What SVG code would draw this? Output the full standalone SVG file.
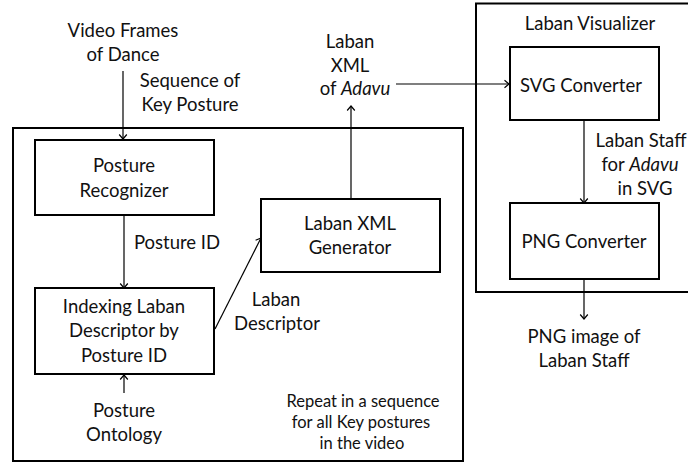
<svg xmlns="http://www.w3.org/2000/svg" width="688" height="464" viewBox="0 0 688 464">
<defs>
<marker id="arr" markerUnits="userSpaceOnUse" markerWidth="10" markerHeight="10" viewBox="0 0 10 10" refX="9" refY="5" orient="auto">
<path d="M4.5,1.2 L9,5 L4.5,8.8" fill="none" stroke="#000" stroke-width="1.2"/>
</marker>
</defs>
<style>
text{font-family:Lato,"Liberation Sans",sans-serif;font-size:18.5px;fill:#111;text-anchor:middle}
.sm{font-size:16.5px}
.box{fill:#fff;stroke:#000;stroke-width:2}
.frame{fill:none;stroke:#000;stroke-width:2}
.con{fill:none;stroke:#000;stroke-width:1.2;marker-end:url(#arr)}
</style>
<rect width="688" height="464" fill="#fff"/>
<g id="main-frame">
<rect class="frame" x="13" y="128" width="450" height="333"/>
<text class="sm" x="363" y="407">Repeat in a sequence</text>
<text class="sm" x="361" y="428">for all Key postures</text>
<text class="sm" x="362" y="449">in the video</text>
</g>
<g id="visualizer-frame">
<rect class="frame" x="476" y="3.5" width="220" height="288.5"/>
<text x="590" y="30">Laban Visualizer</text>
</g>
<g id="connectors">
<line class="con" x1="123" y1="71" x2="123" y2="139"/>
<line class="con" x1="124" y1="215" x2="124" y2="288"/>
<line class="con" x1="124" y1="393" x2="124" y2="375"/>
<line class="con" x1="215" y1="329" x2="261" y2="238"/>
<line class="con" x1="351" y1="199" x2="351" y2="106"/>
<line class="con" x1="396" y1="84" x2="509" y2="84"/>
<line class="con" x1="584" y1="120" x2="584" y2="203"/>
<line class="con" x1="584" y1="279" x2="584" y2="319"/>
</g>
<g id="video-frames">
<text x="123" y="37">Video Frames</text>
<text x="123" y="61">of Dance</text>
</g>
<g id="label-sequence">
<text x="190" y="87">Sequence of</text>
<text x="190" y="111">Key Posture</text>
</g>
<g id="posture-recognizer">
<rect class="box" x="35" y="140" width="179" height="75"/>
<text x="124" y="172">Posture</text>
<text x="124" y="197">Recognizer</text>
</g>
<g id="label-posture-id">
<text x="177" y="249">Posture ID</text>
</g>
<g id="indexing">
<rect class="box" x="35" y="288" width="179" height="86"/>
<text x="124" y="313">Indexing Laban</text>
<text x="124" y="337">Descriptor by</text>
<text x="124" y="362">Posture ID</text>
</g>
<g id="posture-ontology">
<text x="124" y="417">Posture</text>
<text x="124" y="441">Ontology</text>
</g>
<g id="label-laban-descriptor">
<text x="276" y="306">Laban</text>
<text x="277" y="330">Descriptor</text>
</g>
<g id="laban-xml-generator">
<rect class="box" x="261" y="199" width="179" height="73"/>
<text x="350" y="230">Laban XML</text>
<text x="350" y="254">Generator</text>
</g>
<g id="laban-xml-adavu">
<text x="350" y="48">Laban</text>
<text x="350" y="72">XML</text>
<text x="355" y="95">of <tspan font-style="italic">Adavu</tspan></text>
</g>
<g id="svg-converter">
<rect class="box" x="510" y="47" width="149" height="73"/>
<text x="581" y="92">SVG Converter</text>
</g>
<g id="label-laban-staff">
<text x="641" y="147">Laban Staff</text>
<text x="640" y="171">for  <tspan font-style="italic">Adavu</tspan></text>
<text x="645" y="195">in SVG</text>
</g>
<g id="png-converter">
<rect class="box" x="510" y="203" width="149" height="76"/>
<text x="584" y="248">PNG Converter</text>
</g>
<g id="png-output">
<text x="584" y="343">PNG image of</text>
<text x="584" y="367">Laban Staff</text>
</g>
</svg>
